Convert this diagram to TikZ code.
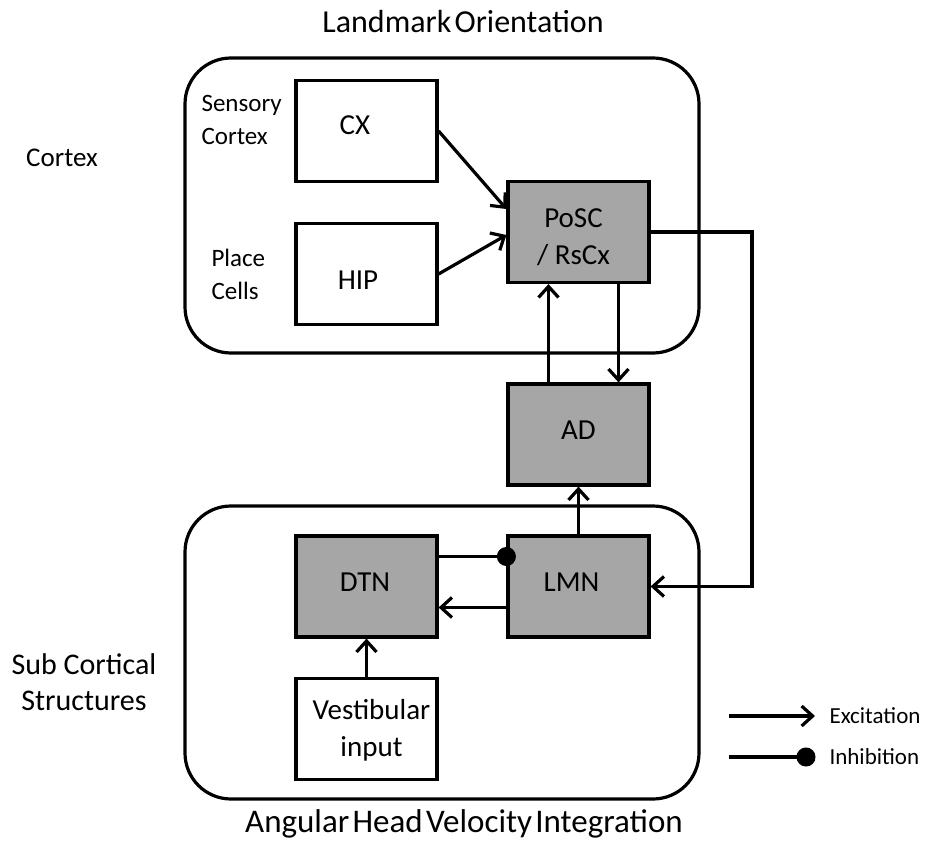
\documentclass[tikz,border=0pt]{standalone}
\usepackage{fontspec}
\setmainfont{Carlito}
\usetikzlibrary{arrows.meta}
\definecolor{nucleus}{HTML}{A6A6A6}
\begin{document}
\begin{tikzpicture}[x=1pt,y=-1pt,
  every node/.style={font=\fontsize{29}{37}\selectfont, align=center},
  region/.style={draw, line width=3.2pt, rounded corners=46pt, inner sep=0pt},
  area/.style={draw, line width=3.2pt, minimum width=141pt, minimum height=101pt,
    inner sep=0pt},
  grayarea/.style={area, fill=nucleus},
  titletext/.style={font=\fontsize{32}{38}\selectfont, inner sep=0pt},
  labeltext/.style={font=\fontsize{30}{36}\selectfont},
  sidetext/.style={font=\fontsize{25}{33}\selectfont, align=left, anchor=west},
  legendtext/.style={font=\fontsize{23}{27}\selectfont, anchor=west},
  excite/.style={line width=3.2pt, -{Straight Barb[length=11pt,width=20pt,line width=3.2pt]}},
  inhibit/.style={line width=3.2pt, -{Circle[length=19pt]}},
]
\useasboundingbox (0,0) rectangle (926,842);

% enclosing regions
\node[region, minimum width=514pt, minimum height=295pt] (cortexregion) at (442,205.5) {};
\node[region, minimum width=514pt, minimum height=293pt] (subregion) at (442,652.5) {};

% region captions
\node[titletext] (toptitle) at (463,22) {\spaceskip=0.1em\relax Landmark Orientation};
\node[titletext, font=\fontsize{33}{38}\selectfont] (bottomtitle) at (464,824) {\spaceskip=0.1em\relax Angular Head Velocity Integration};
\node[labeltext, font=\fontsize{27}{32}\selectfont] (cortexlabel) at (62,158) {Cortex};
\node[labeltext] (sublabel) at (84,682) {Sub Cortical\\Structures};

% areas, each with its name set a little off centre
\node[area, label={[name=cxtext, shift={(-11.5pt,6pt)}]center:CX}] (cx) at (366.5,131) {};
\node[area, label={[name=hiptext, shift={(-8.5pt,-6pt)}]center:HIP}] (hip) at (366.5,274) {};
\node[grayarea, label={[name=posctext, shift={(-5pt,-5pt)}]center:PoSC\\/ RsCx}] (posc) at (578.5,232) {};
\node[grayarea, label={[name=adtext, shift={(0pt,4pt)}]center:AD}] (ad) at (578.5,434.5) {};
\node[grayarea, label={[name=dtntext, shift={(-1.5pt,4.5pt)}]center:DTN}] (dtn) at (366.5,586.5) {};
\node[grayarea, label={[name=lmntext, shift={(-7pt,4.5pt)}]center:LMN}] (lmn) at (578.5,586.5) {};
\node[area, label={[name=vesttext, shift={(5pt,-1pt)}]center:Vestibular\\input}] (vest) at (366.5,729) {};

\node[sidetext] (sensory) at (198,120) {Sensory\\Cortex};
\node[sidetext] (place) at (208,274) {Place\\Cells};

% connections
\draw[excite] (cx.east) -- ([yshift=23pt]posc.west);
\draw[excite] (hip.east) -- ([yshift=-3pt]posc.west);
\draw[excite] ([xshift=-30pt]ad.north) -- ([xshift=-30pt]posc.south);
\draw[excite] ([xshift=40pt]posc.south) -- ([xshift=40pt]ad.north);
\draw[excite] (lmn.north) -- (ad.south);
\draw[excite] ([yshift=-21pt]lmn.west) -- ([yshift=-21pt]dtn.east);
\draw[inhibit] ([yshift=30pt]dtn.east) -- ([xshift=9.5pt,yshift=30pt]lmn.west);
\draw[excite] (vest.north) -- (dtn.south);
\coordinate (loopcorner) at (752,232);
\draw[excite] (posc.east) -- (loopcorner) |- (lmn.east);

% legend
\coordinate (excstart) at (729,716);
\coordinate (excend) at (815,716);
\coordinate (inhstart) at (729,757);
\coordinate (inhend) at (815.5,757);
\draw[excite] (excstart) -- (excend);
\draw[inhibit] (inhstart) -- (inhend);
\node[legendtext] (exclabel) at (826,716) {Excitation};
\node[legendtext] (inhlabel) at (826,757) {Inhibition};
\end{tikzpicture}
\end{document}
